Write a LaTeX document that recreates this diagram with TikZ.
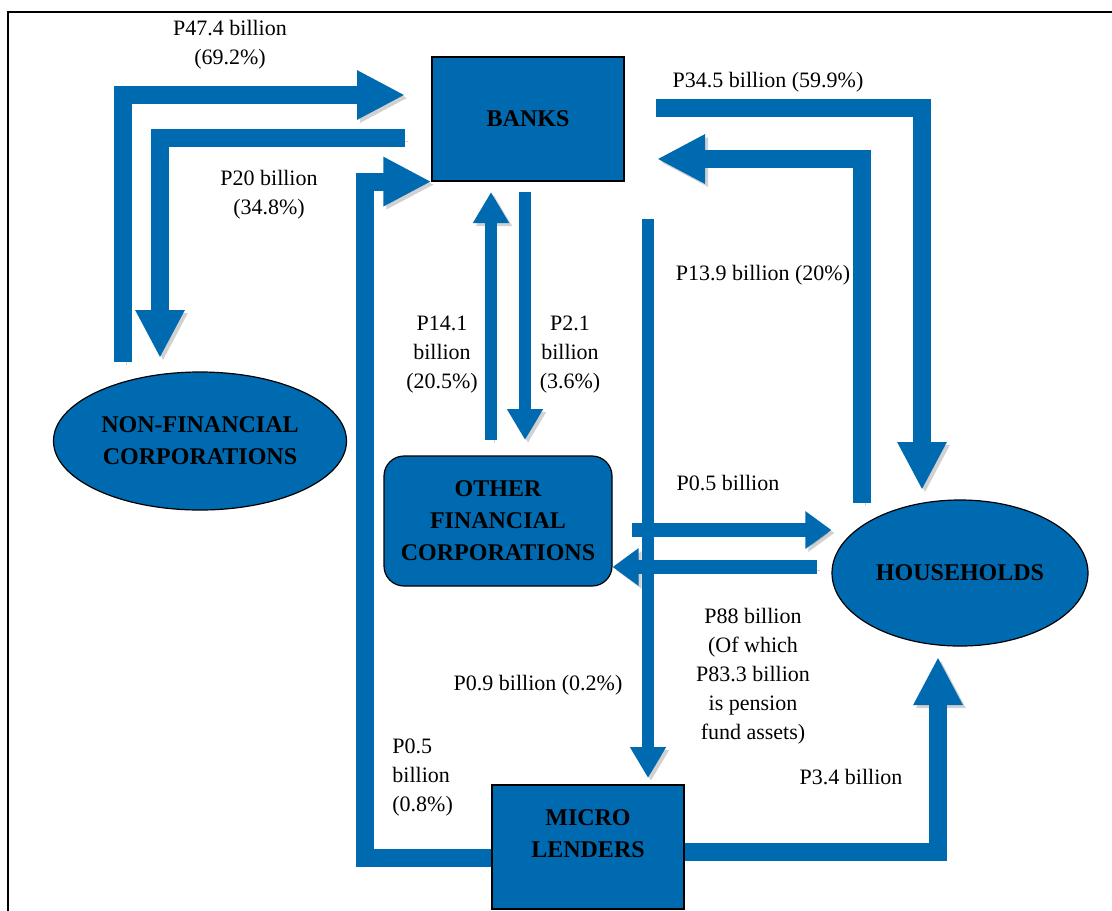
\documentclass[tikz,border=0pt]{standalone}
\usepackage{fontspec}
\setmainfont{Liberation Serif}
\usetikzlibrary{arrows.meta,shapes.geometric}
\definecolor{flowblue}{RGB}{0,106,177}

\begin{document}
\begin{tikzpicture}[x=0.5pt,y=-0.5pt,
	orgbox/.style={draw=black,line width=.6pt,fill=flowblue,inner sep=0pt,align=center,font=\bfseries\fontsize{12}{16}\selectfont,minimum width=96pt,minimum height=62pt},
	orgoval/.style={orgbox,ellipse},
	orgtext/.style={inner sep=0pt,align=center,font=\bfseries\fontsize{12}{16}\selectfont},
	flowlabel/.style={inner sep=0pt,align=center,font=\fontsize{11}{14.5}\selectfont},
	flowshade/.style={preaction={draw=black,opacity=.18,transform canvas={shift={(1.5pt,-1.5pt)}}}},
	flowbig/.style={flowshade,draw=flowblue,line width=9pt,-{Triangle[width=23pt,length=24pt]}},
	flowthin/.style={flowshade,draw=flowblue,line width=6pt,-{Triangle[width=17pt,length=15.5pt]}},
	flowmid/.style={flowshade,draw=flowblue,line width=7pt,-{Triangle[width=18pt,length=13pt]}}]
	\useasboundingbox (0,0) rectangle (1112,910);
	\draw[line width=.8pt] (8,12) rectangle (1130,930);
	\node[orgbox] (banks) at (528,119) {BANKS};
	\node[orgoval,minimum width=146.5pt,minimum height=69pt] (nonfin) at (200,441) {NON-FINANCIAL\\CORPORATIONS};
	\node[orgbox,rounded corners=10pt,minimum width=114pt,minimum height=65pt] (otherfin) at (498,521) {OTHER\\FINANCIAL\\CORPORATIONS};
	\node[orgoval,minimum width=128pt,minimum height=73pt] (house) at (960,573) {HOUSEHOLDS};
	\node[orgbox] (micro) at (588,847) {};
	\node[orgtext] (microtext) at (588,834) {MICRO\\LENDERS};
	\path
	(123,362) coordinate (nf1) (405,95) coordinate (bk1)
	(405,138) coordinate (bk2) (160,358) coordinate (nf2)
	(491,440) coordinate (of4) (491,192) coordinate (bk4)
	(525,192) coordinate (bk5) (525,440) coordinate (of5)
	(656,108) coordinate (bk6) (922,490) coordinate (hh6)
	(862,503) coordinate (hh7) (657,159) coordinate (bk7)
	(632,530) coordinate (of9) (817,567) coordinate (hh10)
	(648,219) coordinate (bk8) (648,778) coordinate (mc8)
	(938,657) coordinate (hh11);
	\draw[flowbig] (nf1) |- (bk1);
	\draw[flowbig] (bk2) -| (nf2);
	\draw[flowbig] ([yshift=-5.5pt]micro.west) -| ([xshift=-33pt]banks.south west) -- (banks.south west);
	\draw[flowbig] (bk6) -| (hh6);
	\draw[flowbig] (hh7) |- (bk7);
	\draw[flowbig] ([yshift=-2.5pt]micro.east) -| (hh11);
	\draw[flowmid] (of9) -- ([yshift=21.5pt]house.west);
	\draw[flowmid] (hh10) -- ([yshift=-23pt]otherfin.east);
	\foreach \a/\b in {of4/bk4,bk5/of5,bk8/mc8} \draw[flowthin] (\a) -- (\b);
	\node[flowlabel] (l474) at (230,45) {P47.4 billion\\(69.2\%)};
	\node[flowlabel] (l20) at (269,195) {P20 billion\\(34.8\%)};
	\node[flowlabel] (l345) at (768,82) {P34.5 billion (59.9\%)};
	\node[flowlabel] (l139) at (763,275) {P13.9 billion (20\%)};
	\node[flowlabel] (l141) at (442,355) {P14.1\\billion\\(20.5\%)};
	\node[flowlabel] (l21) at (570,355) {P2.1\\billion\\(3.6\%)};
	\node[flowlabel] (l05a) at (728,483) {P0.5 billion};
	\node[flowlabel] (l88) at (753,676) {P88 billion\\(Of which\\P83.3 billion\\is pension\\fund assets)};
	\node[flowlabel] (l09) at (538,685) {P0.9 billion (0.2\%)};
	\node[flowlabel,align=left,anchor=west] (l05b) at (392,778) {P0.5\\billion\\(0.8\%)};
	\node[flowlabel] (l34) at (851,777) {P3.4 billion};
\end{tikzpicture}
\end{document}
